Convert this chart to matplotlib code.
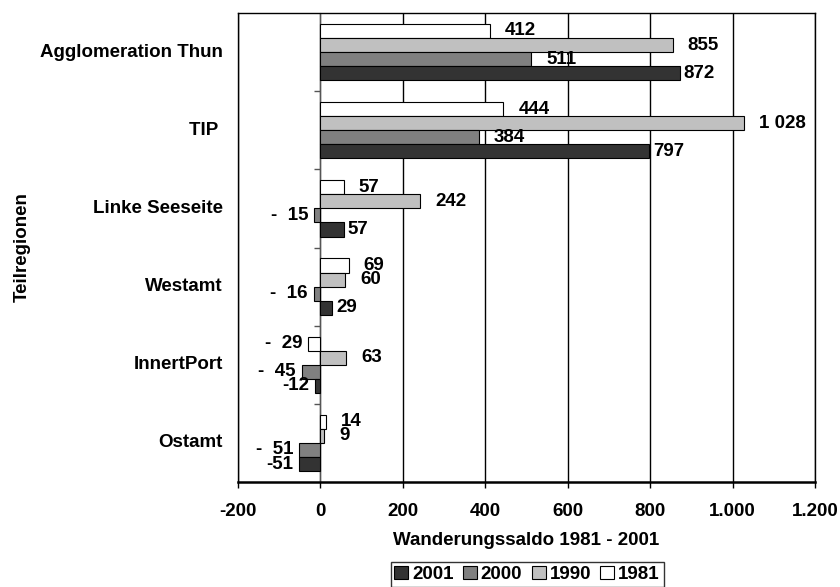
import matplotlib.pyplot as plt
import matplotlib.transforms as mtransforms
import numpy as np

# ==================================================
# DATA
# ==================================================

regions = [
    "Agglomeration Thun",
    "TIP ",
    "Linke Seeseite",
    "Westamt",
    "InnertPort",
    "Ostamt",
]

years = ["1981", "1990", "2000", "2001"]

saldo_1981 = [412, 444, 57, 69, -29, 14]
saldo_1990 = [855, 1028, 242, 60, 63, 9]
saldo_2000 = [511, 384, -15, -16, -45, -51]
saldo_2001 = [872, 797, 57, 29, -12, -51]

x_ticks = [-200, 0, 200, 400, 600, 800, 1000, 1200]
x_tick_labels = ["-200", "0", "200", "400", "600", "800", "1.000", "1.200"]

# ==================================================
# STYLE
# ==================================================

plt.rcParams["font.family"] = ["Liberation Sans", "DejaVu Sans"]
plt.rcParams["font.weight"] = "bold"
FS = 13.5

series = [saldo_1981, saldo_1990, saldo_2000, saldo_2001]
colors = ["#FFFFFF", "#C0C0C0", "#808080", "#333333"]
# label offset (points) for positive values, per series
pos_offset = [10.8, 10.8, 10.8, 2.9]
neg_offset = 4.3


def fmt(v, tight_minus=False):
    s = f"{abs(v):,}".replace(",", " ")
    if v < 0:
        return ("-" if tight_minus else "-  ") + s
    return s


fig = plt.figure(figsize=(8.4, 5.87), dpi=100)
ax = fig.add_axes([238 / 840, 1 - 482 / 587, 577 / 840, 469 / 587])

y = np.arange(len(regions))
h = 0.18
shifts = [-1.5, -0.5, 0.5, 1.5]

bars = []
for k, vals in enumerate(series):
    b = ax.barh(y + shifts[k] * h, vals, height=h, color=colors[k],
                edgecolor="black", linewidth=0.8, zorder=3)
    bars.append(b)
    for yy, v in zip(y + shifts[k] * h, vals):
        if v >= 0:
            ax.annotate(fmt(v), (v, yy), xytext=(pos_offset[k], 0),
                        textcoords="offset points", ha="left", va="center",
                        fontsize=FS, fontweight="bold", zorder=4)
        else:
            ax.annotate(fmt(v, tight_minus=(k == 3)), (v, yy),
                        xytext=(-neg_offset, 0), textcoords="offset points",
                        ha="right", va="center", fontsize=FS,
                        fontweight="bold", zorder=4)

ax.set_xlim(-200, 1200)
ax.set_ylim(len(regions) - 0.5, -0.5)

ax.set_xticks(x_ticks)
ax.set_xticklabels(x_tick_labels, fontsize=FS, fontweight="bold")
ax.tick_params(axis="x", direction="out", length=4.5, width=1, pad=10.5)
ax.xaxis.grid(True, color="black", linewidth=1)
ax.set_axisbelow(True)

# y axis sits at zero, ticks between the groups
ax.spines["left"].set_position(("data", 0))
ax.spines["left"].set_color("#555555")
ax.set_yticks(np.arange(0.5, len(regions) - 0.5, 1.0))
ax.set_yticklabels([])
ax.tick_params(axis="y", direction="out", length=4.5, width=1, color="#555555")

ax.spines["bottom"].set_linewidth(1.8)
ax.spines["top"].set_linewidth(1)
ax.spines["right"].set_linewidth(1)
ax.axvline(-200, color="black", linewidth=1, clip_on=False, zorder=2)

trans = mtransforms.blended_transform_factory(ax.transAxes, ax.transData)
for yy, name in zip(y, regions):
    ax.text(-0.026, yy, name, transform=trans, ha="right", va="center",
            fontsize=FS, fontweight="bold")

ax.set_xlabel("Wanderungssaldo 1981 - 2001", fontsize=FS, fontweight="bold",
              labelpad=9)
fig.text(0.026, 1 - 247 / 587, "Teilregionen", rotation=90, ha="center",
         va="center", fontsize=FS, fontweight="bold")

leg = fig.legend([bars[3], bars[2], bars[1], bars[0]],
                 ["2001", "2000", "1990", "1981"],
                 loc="upper center", bbox_to_anchor=(527 / 840, 1 - 562 / 587),
                 ncol=4, fontsize=FS, frameon=True, fancybox=False,
                 handlelength=0.75, handleheight=0.75, handletextpad=0.2,
                 columnspacing=0.5, borderpad=0.2, borderaxespad=0)
leg.get_frame().set_edgecolor("black")
leg.get_frame().set_linewidth(1)
for t in leg.get_texts():
    t.set_fontweight("bold")

plt.savefig("out.png", dpi=100, facecolor="white")
